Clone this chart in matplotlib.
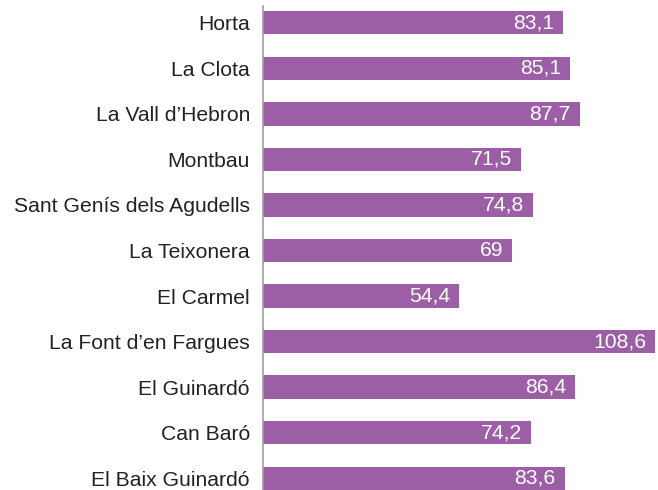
import matplotlib.pyplot as plt
from matplotlib.transforms import offset_copy

plt.rcParams['font.family'] = ['Liberation Sans', 'DejaVu Sans']

barris = ['Horta', 'La Clota', 'La Vall d\u2019Hebron', 'Montbau',
          'Sant Genís dels Agudells', 'La Teixonera', 'El Carmel',
          'La Font d\u2019en Fargues', 'El Guinardó', 'Can Baró',
          'El Baix Guinardó']
valors = [83.1, 85.1, 87.7, 71.5, 74.8, 69, 54.4, 108.6, 86.4, 74.2, 83.6]
etiquetes = ['83,1', '85,1', '87,7', '71,5', '74,8', '69', '54,4',
             '108,6', '86,4', '74,2', '83,6']

color_barra = '#9c5fa6'

fig = plt.figure(figsize=(6.58, 4.90), dpi=100)
ax = fig.add_axes([263 / 658, 0.0, (655 - 263) / 658, 1 - 6 / 490])

pos = list(range(len(barris)))
ax.barh(pos, valors, height=0.51, color=color_barra)

ax.set_xlim(0, 108.6)
ax.set_ylim(10.26, -0.37)
ax.set_yticks(pos)
ax.set_yticklabels(barris, fontsize=15.2, color='#222222')
ax.tick_params(axis='y', length=0, pad=9.4)
ax.set_xticks([])

for s in ['top', 'right', 'bottom']:
    ax.spines[s].set_visible(False)
ax.spines['left'].set_color('#a0a0a0')
ax.spines['left'].set_linewidth(1.2)

trans = offset_copy(ax.transData, fig=fig, x=-6.5, y=0, units='points')
for p, v, t in zip(pos, valors, etiquetes):
    ax.text(v, p, t, transform=trans, ha='right', va='center',
            color='white', fontsize=15.2)

fig.savefig('out.png', dpi=100)
